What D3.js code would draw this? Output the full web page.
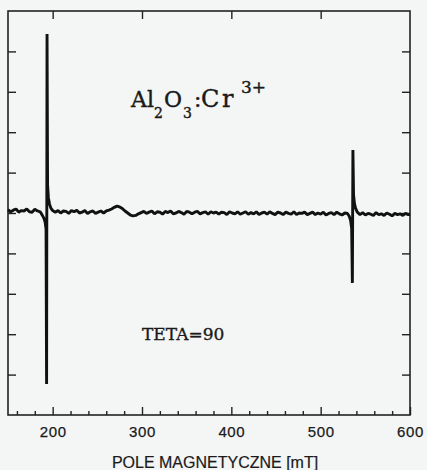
<!DOCTYPE html>
<html>
<head>
<meta charset="utf-8">
<script src="https://cdn.jsdelivr.net/npm/d3@7/dist/d3.min.js"></script>
<style>
  html, body { margin: 0; padding: 0; background: #f4f5f5; }
  svg { display: block; }
</style>
</head>
<body>
<script>
// ---- data ----
const fieldMT = [
  150,153,156,159,162,165,168,171,174,177,180,183,
  186,188,190,191.5,192.6,193.2,193.7,194.3,195.2,196.5,198,
  200,203,206,209,212,215,218,221,224,227,230,233,236,239,242,245,248,251,254,257,260,
  263,266,269,272,275,278,281,284,287,290,293,296,299,
  302,305,308,311,314,317,320,323,326,329,332,335,338,341,344,347,350,353,356,359,
  362,365,368,371,374,377,380,383,386,389,392,395,398,401,404,407,410,413,416,419,
  422,425,428,431,434,437,440,443,446,449,452,455,458,461,464,467,470,473,476,479,
  482,485,488,491,494,497,500,503,506,509,512,515,518,521,524,527,530,
  532,533.5,534.7,535.5,536.1,536.8,537.8,539,541,
  544,547,550,553,556,559,562,565,568,571,574,577,580,583,586,589,592,595,598,600
];
const signal = [
  5.08,5.03,5.07,5.10,5.02,5.06,5.05,5.10,5.03,5.02,5.09,5.05,
  5.03,4.96,4.88,4.78,4.60,0.77,9.43,5.70,5.38,5.22,5.12,
  5.06,5.02,5.06,5.00,5.05,5.04,4.99,5.06,5.03,5.07,5.00,5.02,5.06,4.99,5.03,5.05,4.99,5.02,5.05,5.00,5.05,
  5.07,5.10,5.14,5.17,5.15,5.11,5.05,5.00,4.95,4.93,4.94,4.98,5.01,
  5.04,4.99,5.02,5.05,4.98,5.03,5.02,4.97,5.04,5.01,5.05,4.98,5.00,5.04,5.01,4.97,5.04,5.02,4.98,5.02,
  5.04,4.98,5.01,5.03,4.97,5.03,5.00,5.02,4.97,5.02,5.01,4.96,5.03,5.00,4.98,5.03,4.97,5.00,5.03,4.97,
  5.01,4.98,5.03,4.96,5.00,5.02,4.97,5.03,4.99,4.96,5.02,5.00,4.96,5.02,4.99,4.97,5.03,4.96,5.00,4.99,
  5.02,4.96,4.99,5.02,4.96,5.00,4.97,5.02,4.95,4.99,5.01,4.96,5.02,4.98,4.95,5.00,4.99,
  4.92,4.82,4.62,3.27,6.56,5.45,5.24,5.12,5.02,
  4.96,5.01,4.95,4.99,4.97,4.94,5.01,4.96,4.98,4.94,5.00,4.97,4.93,4.99,4.96,4.98,4.94,4.99,4.96,4.97
];
const xMajorTicks = [200, 300, 400, 500, 600];
const xMinorTicks = [160,180,220,240,260,280,320,340,360,380,420,440,460,480,520,540,560,580];
const xTopTicks = [200, 300, 400, 500];
const yTicks = [1,2,3,4,5,6,7,8,9];
const xDomain = [150, 600];
const yDomain = [0, 10];

// ---- layout ----
const W = 427, H = 470;
const m = { left: 8, top: 11, right: 17, bottom: 55 };
const iw = W - m.left - m.right, ih = H - m.top - m.bottom;

const svg = d3.select("body").append("svg").attr("width", W).attr("height", H);
svg.append("rect").attr("width", W).attr("height", H).attr("fill", "#f4f5f5");
const g = svg.append("g").attr("transform", `translate(${m.left},${m.top})`);

const x = d3.scaleLinear().domain(xDomain).range([0, iw]);
const y = d3.scaleLinear().domain(yDomain).range([ih, 0]);

const axisColor = "#222";
function styleAxis(sel) {
  sel.select(".domain").remove();
  sel.selectAll(".tick line").attr("stroke", axisColor).attr("stroke-width", 1.4);
}

// bottom major ticks with labels
const xb = g.append("g").attr("transform", `translate(0,${ih})`)
  .call(d3.axisBottom(x).tickValues(xMajorTicks).tickSizeInner(-8).tickSizeOuter(0).tickPadding(11).tickFormat(d3.format("d")));
styleAxis(xb);
xb.selectAll(".tick text").attr("font-family", "'Liberation Sans', Arial, sans-serif")
  .attr("font-size", 15).attr("fill", "#1a1a1a").attr("letter-spacing", 0.6)
  .attr("stroke", "#1a1a1a").attr("stroke-width", 0.25);

// bottom minor ticks
const xbm = g.append("g").attr("transform", `translate(0,${ih})`)
  .call(d3.axisBottom(x).tickValues(xMinorTicks).tickSizeInner(-4).tickSizeOuter(0).tickFormat(""));
styleAxis(xbm);

// top ticks
const xt = g.append("g")
  .call(d3.axisTop(x).tickValues(xTopTicks).tickSizeInner(-8).tickSizeOuter(0).tickFormat(""));
styleAxis(xt);

// left / right ticks
const yl = g.append("g").call(d3.axisLeft(y).tickValues(yTicks).tickSizeInner(-8).tickSizeOuter(0).tickFormat(""));
styleAxis(yl);
const yr = g.append("g").attr("transform", `translate(${iw},0)`)
  .call(d3.axisRight(y).tickValues(yTicks).tickSizeInner(-8).tickSizeOuter(0).tickFormat(""));
styleAxis(yr);

// frame
g.append("rect").attr("x", 0).attr("y", 0).attr("width", iw).attr("height", ih)
  .attr("fill", "none").attr("stroke", axisColor).attr("stroke-width", 1.6);

// spectrum
const data = fieldMT.map((f, i) => [f, signal[i]]);
const line = d3.line().x(d => x(d[0])).y(d => y(d[1]));
g.append("path").datum(data).attr("d", line)
  .attr("fill", "none").attr("stroke", "#111").attr("stroke-width", 2.9)
  .attr("stroke-linejoin", "bevel");

// annotation: Al2O3:Cr3+
const serif = "'DejaVu Serif', 'Liberation Serif', serif";
const t = svg.append("text").attr("font-family", serif).attr("fill", "#1a1a1a")
  .attr("stroke", "#1a1a1a").attr("stroke-width", 0.4);
t.append("tspan").attr("x", 131).attr("y", 107).attr("font-size", 22).text("Al");
t.append("tspan").attr("x", 154).attr("y", 118).attr("font-size", 14).text("2");
t.append("tspan").attr("x", 164).attr("y", 107).attr("font-size", 22).text("O");
t.append("tspan").attr("x", 183).attr("y", 118).attr("font-size", 14).text("3");
t.append("tspan").attr("x", 194).attr("y", 107).attr("font-size", 22).text(":");
t.append("tspan").attr("x", 201).attr("y", 107).attr("font-size", 24).text("C");
t.append("tspan").attr("x", 222).attr("y", 107).attr("font-size", 24).text("r");
t.append("tspan").attr("x", 241).attr("y", 93).attr("font-size", 17).text("3+");

svg.append("text").attr("x", 142).attr("y", 340)
  .attr("font-family", serif).attr("font-size", 17).attr("fill", "#1a1a1a")
  .attr("stroke", "#1a1a1a").attr("stroke-width", 0.35)
  .text("TETA=90");

// axis title
svg.append("text").attr("x", 215).attr("y", 468).attr("text-anchor", "middle")
  .attr("font-family", "'Liberation Sans', Arial, sans-serif").attr("font-size", 16).attr("fill", "#1a1a1a")
  .attr("stroke", "#1a1a1a").attr("stroke-width", 0.2)
  .text("POLE MAGNETYCZNE [mT]");
</script>
</body>
</html>
